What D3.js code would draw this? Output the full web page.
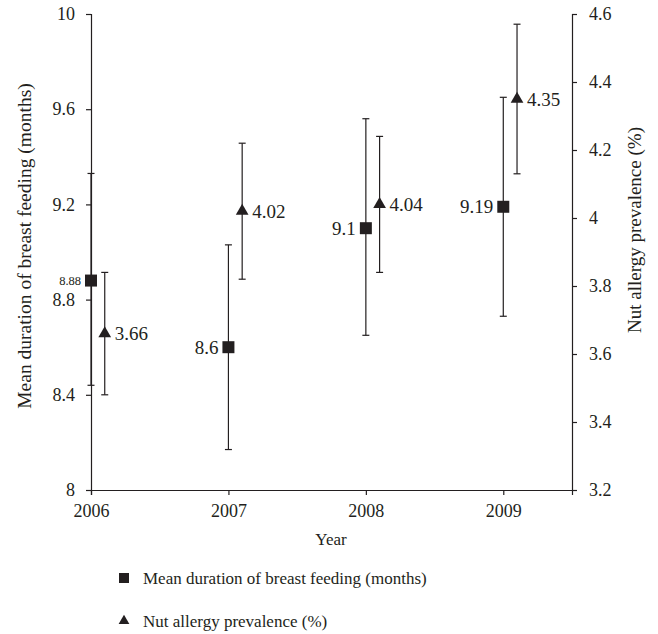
<!DOCTYPE html>
<html>
<head>
<meta charset="utf-8">
<script src="https://cdn.jsdelivr.net/npm/d3@7"></script>
<style>
  body { margin: 0; background: #fff; }
  svg text { font-family: "Liberation Serif", "DejaVu Serif", serif; fill: #231f20; }
  .axis path, .axis line { stroke: #231f20; stroke-width: 1.2; }
  .axis text { font-size: 18px; }
</style>
</head>
<body>
<div id="chart"></div>
<script>
// data
const years = [2006, 2007, 2008, 2009];
const bfMean = [8.88, 8.6, 9.1, 9.19];
const bfLow = [8.44, 8.17, 8.65, 8.73];
const bfHigh = [9.33, 9.03, 9.56, 9.65];
const bfLabels = ["8.88", "8.6", "9.1", "9.19"];
const naMean = [3.66, 4.02, 4.04, 4.35];
const naLow = [3.48, 3.82, 3.84, 4.13];
const naHigh = [3.84, 4.22, 4.24, 4.57];
const naLabels = ["3.66", "4.02", "4.04", "4.35"];
const leftTicks = [8, 8.4, 8.8, 9.2, 9.6, 10];
const rightTicks = [3.2, 3.4, 3.6, 3.8, 4, 4.2, 4.4, 4.6];
const legendLabels = ["Mean duration of breast feeding (months)", "Nut allergy prevalence (%)"];

const width = 658, height = 634;
const ink = "#231f20";

const svg = d3.select("#chart").append("svg")
    .attr("width", width)
    .attr("height", height);

const x = d3.scaleLinear().domain([2006, 2009.5]).range([91, 572]);
const yL = d3.scaleLinear().domain([8, 10]).range([490, 14]);
const yR = d3.scaleLinear().domain([3.2, 4.6]).range([490, 14]);
const offset = 0.1; // triangles sit a little right of the squares

// axes
svg.append("g")
    .attr("class", "axis")
    .attr("transform", "translate(0,490)")
    .call(d3.axisBottom(x).tickValues(years).tickFormat(d3.format("d")).tickSizeOuter(0).tickSize(5).tickPadding(9));

svg.append("g")
    .attr("class", "axis")
    .attr("transform", "translate(91,0)")
    .call(d3.axisLeft(yL).tickValues(leftTicks).tickFormat(d => String(d)).tickSizeOuter(0).tickSize(5).tickPadding(11));

svg.append("g")
    .attr("class", "axis")
    .attr("transform", "translate(572,0)")
    .call(d3.axisRight(yR).tickValues(rightTicks).tickFormat(d => String(d)).tickSizeOuter(0).tickSize(5).tickPadding(12));

svg.selectAll(".axis .domain").attr("stroke", ink);

// axis titles
svg.append("text")
    .attr("x", 331).attr("y", 545)
    .attr("text-anchor", "middle")
    .attr("font-size", "17px")
    .text("Year");

svg.append("text")
    .attr("transform", "translate(31,246) rotate(-90)")
    .attr("text-anchor", "middle")
    .attr("font-size", "19.5px")
    .text(legendLabels[0]);

svg.append("text")
    .attr("transform", "translate(641,230) rotate(-90)")
    .attr("text-anchor", "middle")
    .attr("font-size", "19px")
    .text(legendLabels[1]);

const cap = 3.5;

// error bars - breast feeding
const bf = svg.append("g");
years.forEach((yr, i) => {
    const cx = x(yr);
    bf.append("line")
        .attr("x1", cx).attr("x2", cx)
        .attr("y1", yL(bfLow[i])).attr("y2", yL(bfHigh[i]))
        .attr("stroke", ink).attr("stroke-width", 1.2);
    [bfLow[i], bfHigh[i]].forEach(v => {
        bf.append("line")
            .attr("x1", cx - cap).attr("x2", cx + cap)
            .attr("y1", yL(v)).attr("y2", yL(v))
            .attr("stroke", ink).attr("stroke-width", 1.2);
    });
});

// error bars - nut allergy
const na = svg.append("g");
years.forEach((yr, i) => {
    const cx = x(yr + offset);
    na.append("line")
        .attr("x1", cx).attr("x2", cx)
        .attr("y1", yR(naLow[i])).attr("y2", yR(naHigh[i]))
        .attr("stroke", ink).attr("stroke-width", 1.2);
    [naLow[i], naHigh[i]].forEach(v => {
        na.append("line")
            .attr("x1", cx - cap).attr("x2", cx + cap)
            .attr("y1", yR(v)).attr("y2", yR(v))
            .attr("stroke", ink).attr("stroke-width", 1.2);
    });
});

const sq = d3.symbol().type(d3.symbolSquare).size(144);
const tri = d3.symbol().type(d3.symbolTriangle).size(70);

// squares + labels
svg.selectAll(".bf-pt")
    .data(years)
    .join("path")
    .attr("class", "bf-pt")
    .attr("d", sq)
    .attr("fill", ink)
    .attr("transform", (d, i) => `translate(${x(d)},${yL(bfMean[i])})`);

svg.selectAll(".bf-lab")
    .data(years)
    .join("text")
    .attr("class", "bf-lab")
    .attr("x", d => x(d) - 10)
    .attr("y", (d, i) => yL(bfMean[i]) + (d === 2006 ? 4 : 6.5))
    .attr("text-anchor", "end")
    .attr("font-size", d => d === 2006 ? "12.5px" : "19px")
    .text((d, i) => bfLabels[i]);

// triangles + labels
svg.selectAll(".na-pt")
    .data(years)
    .join("path")
    .attr("class", "na-pt")
    .attr("d", tri)
    .attr("fill", ink)
    .attr("transform", (d, i) => `translate(${x(d + offset)},${yR(naMean[i])})`);

svg.selectAll(".na-lab")
    .data(years)
    .join("text")
    .attr("class", "na-lab")
    .attr("x", d => x(d + offset) + 10)
    .attr("y", (d, i) => yR(naMean[i]) + 6.5)
    .attr("font-size", "19px")
    .text((d, i) => naLabels[i]);

// legend
const legend = svg.append("g").attr("transform", "translate(124,0)");
legend.append("path")
    .attr("d", d3.symbol().type(d3.symbolSquare).size(100))
    .attr("fill", ink)
    .attr("transform", "translate(0,578)");
legend.append("text")
    .attr("x", 19).attr("y", 584)
    .attr("font-size", "17px")
    .text(legendLabels[0]);
legend.append("path")
    .attr("d", d3.symbol().type(d3.symbolTriangle).size(50))
    .attr("fill", ink)
    .attr("transform", "translate(0,621)");
legend.append("text")
    .attr("x", 19).attr("y", 627)
    .attr("font-size", "17px")
    .text(legendLabels[1]);
</script>
</body>
</html>
